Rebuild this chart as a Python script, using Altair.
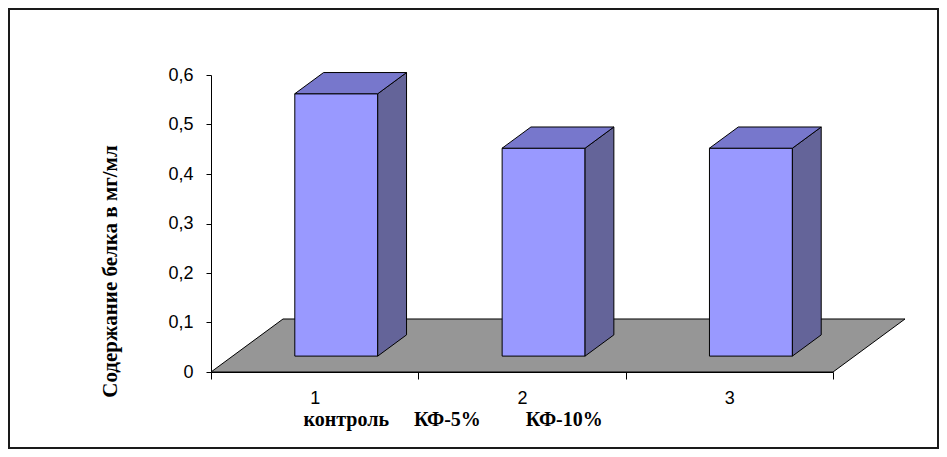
import altair as alt
import pandas as pd

# ---- data ----
categories = ["1", "2", "3"]
values = [0.53, 0.42, 0.42]
y_ticks = [0, 0.1, 0.2, 0.3, 0.4, 0.5, 0.6]
x_title = ("контроль" + "\u00a0" * 5 + "КФ-5%" + "\u00a0" * 9 + "КФ-10%")
y_title = "Содержание белка в мг/мл"

# ---- 3D geometry (oblique projection, in data units) ----
DX, DY = 0.3473, 0.1071      # full floor depth vector
A, B = 0.3, 0.7              # bar depth span (fraction of floor depth)
W0, W1 = 0.3, 0.7            # bar width span within a category

FRONT = "#9999FF"
TOP = "#7777CC"
SIDE = "#646499"
FLOOR = "#969696"

front_rows, side_rows, top_rows = [], [], []
for i, (c, v) in enumerate(zip(categories, values)):
    x0 = i + W0
    x1 = i + W1
    front_rows.append({"bar": c, "x": x0 + A * DX, "x2": x1 + A * DX,
                       "y": A * DY, "y2": A * DY + v})
    side_rows.append({"bar": c, "x": x1 + A * DX, "y": A * DY, "y2": A * DY + v})
    side_rows.append({"bar": c, "x": x1 + B * DX, "y": B * DY, "y2": B * DY + v})
    top_rows.append({"bar": c, "y": A * DY + v, "x": x0 + A * DX, "x2": x1 + A * DX})
    top_rows.append({"bar": c, "y": B * DY + v, "x": x0 + B * DX, "x2": x1 + B * DX})

n = len(categories)
floor_df = pd.DataFrame({"bar": ["floor", "floor"], "y": [0.0, DY],
                         "x": [0.0, DX], "x2": [float(n), n + DX]})
front_df = pd.DataFrame(front_rows)
side_df = pd.DataFrame(side_rows)
top_df = pd.DataFrame(top_rows)

X_SCALE = alt.Scale(domain=[0, n], nice=False, zero=False)
Y_SCALE = alt.Scale(domain=[0, 0.6], nice=False, zero=False)

x_axis = alt.Axis(
    values=[0, 0.5, 1, 1.5, 2, 2.5, 3], grid=False,
    domainColor="black", domainWidth=1,
    tickColor="black", tickSize=7,
    tickOpacity={"condition": {"test": "datum.value % 1 === 0", "value": 1}, "value": 0},
    labelExpr="datum.value % 1 === 0 ? '' : toString(datum.value + 0.5)",
    labelFont="Liberation Sans", labelFontSize=18, labelColor="black",
    labelPadding=10, labelOverlap=False, labelFlush=False,
    title=x_title, titleFont="Liberation Serif", titleFontSize=20,
    titleFontWeight="bold", titleColor="black",
    titleX=92, titleY=53, titleAlign="left", titleBaseline="alphabetic",
    titleAnchor="start",
)
y_axis = alt.Axis(
    values=y_ticks, grid=False,
    domainColor="black", domainWidth=1,
    tickColor="black", tickSize=5,
    labelExpr="datum.value === 0 ? '0' : replace(format(datum.value, '.1f'), '.', ',')",
    labelFont="Liberation Sans", labelFontSize=18, labelColor="black",
    labelPadding=13, labelFlush=False,
    title=y_title, titleFont="Liberation Serif", titleFontSize=21,
    titleFontWeight="bold", titleColor="black",
    titleX=-95, titleY=196, titleAlign="center", titleBaseline="alphabetic",
    titleAngle=270,
)


def xq():
    return alt.X("x:Q", scale=X_SCALE, axis=x_axis, stack=False)


def yq():
    return alt.Y("y:Q", scale=Y_SCALE, axis=y_axis, stack=False)


floor = alt.Chart(floor_df).mark_area(
    orient="horizontal", color=FLOOR, stroke="black", strokeWidth=1, opacity=1
).encode(y=yq(), x=xq(), x2="x2:Q", detail="bar:N")

front = alt.Chart(front_df).mark_rect(
    color=FRONT, stroke="black", strokeWidth=1, opacity=1
).encode(x=xq(), x2="x2:Q", y=yq(), y2="y2:Q")

side = alt.Chart(side_df).mark_area(
    orient="vertical", color=SIDE, stroke="black", strokeWidth=1, opacity=1
).encode(x=xq(), y=yq(), y2="y2:Q", detail="bar:N")

top = alt.Chart(top_df).mark_area(
    orient="horizontal", color=TOP, stroke="black", strokeWidth=1, opacity=1
).encode(y=yq(), x=xq(), x2="x2:Q", detail="bar:N")

frame = alt.Chart(pd.DataFrame({"k": [0]})).mark_rect(
    filled=False, stroke="#1a1a1a", strokeWidth=2
).encode(x=alt.value(-202), x2=alt.value(727), y=alt.value(-66), y2=alt.value(373))

chart = alt.layer(floor, front, side, top, frame).properties(
    width=622, height=297,
    autosize=alt.AutoSizeParams(type="none"),
    padding={"left": 203, "top": 67, "right": 106, "bottom": 77},
    background="white",
).configure_view(strokeWidth=0)

chart.save("out.html", embed_options={"renderer": "svg", "actions": False})
